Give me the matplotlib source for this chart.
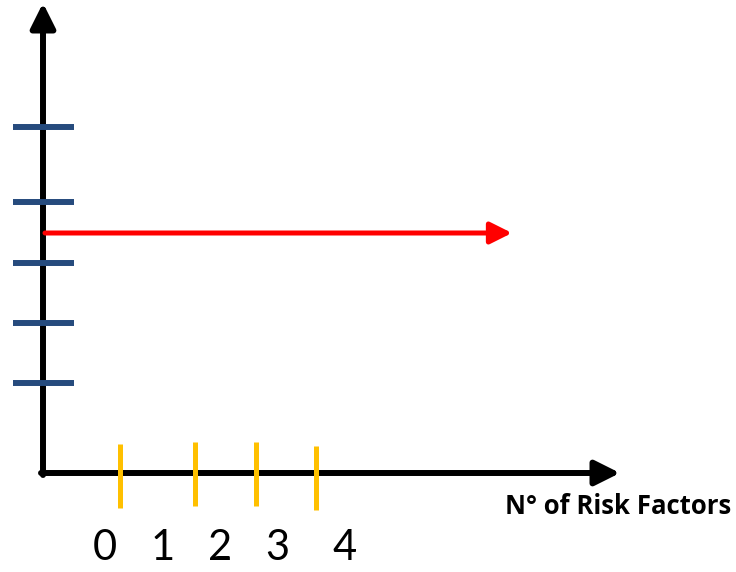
import matplotlib
matplotlib.use("Agg")
import matplotlib.pyplot as plt

# Diagram data (canvas units = pixels of the reference)
x_tick_labels = ["0", "1", "2", "3", "4"]
x_label_pos = [105, 163, 220, 277, 345]
yellow_tick_x = [120, 195, 256, 316]
yellow_tick_top = [444, 442, 442, 446]
yellow_tick_bottom = [508, 506, 506, 510]
blue_tick_y = [127, 202, 263, 323, 383]
axis_title = "N° of Risk Factors"

origin = (43, 473)
y_axis_top = 3
x_axis_right = 620
red_arrow_y = 233
red_arrow_end = 512

fig = plt.figure(figsize=(7.36, 5.72), dpi=100)
ax = fig.add_axes([0, 0, 1, 1])
ax.set_xlim(0, 736)
ax.set_ylim(572, 0)
ax.axis("off")

# blue ticks on the y axis
for y in blue_tick_y:
    ax.plot([13, 74], [y, y], color="#264B7D", lw=4.3, solid_capstyle="butt", zorder=3)

# black axes with arrowheads
ax.annotate("", xy=(origin[0], y_axis_top), xytext=(origin[0], origin[1] + 2),
            arrowprops=dict(arrowstyle="-|>,head_length=0.5,head_width=0.25", lw=4.3,
                            color="black", shrinkA=0, shrinkB=0, mutation_scale=30), zorder=2)
ax.annotate("", xy=(x_axis_right, origin[1]), xytext=(origin[0] - 2, origin[1]),
            arrowprops=dict(arrowstyle="-|>,head_length=0.5,head_width=0.25", lw=4.3,
                            color="black", shrinkA=0, shrinkB=0, mutation_scale=30), zorder=2)

# red arrow
ax.annotate("", xy=(red_arrow_end, red_arrow_y), xytext=(origin[0] + 2, red_arrow_y),
            arrowprops=dict(arrowstyle="-|>,head_length=0.5,head_width=0.25", lw=3.6,
                            color="#FF0000", shrinkA=0, shrinkB=0, mutation_scale=26), zorder=4)

# yellow ticks on the x axis
for x, t, b in zip(yellow_tick_x, yellow_tick_top, yellow_tick_bottom):
    ax.plot([x, x], [t, b], color="#FFC000", lw=3.6, solid_capstyle="butt", zorder=4)

# tick labels
for lab, x in zip(x_tick_labels, x_label_pos):
    ax.text(x, 548, lab, fontsize=30, family=["Lato", "DejaVu Sans"], ha="center", va="center")

ax.text(731, 507, axis_title, fontsize=18.5, fontweight="bold",
        family=["Open Sans", "DejaVu Sans"], ha="right", va="center")

fig.savefig("out.png", dpi=100)
